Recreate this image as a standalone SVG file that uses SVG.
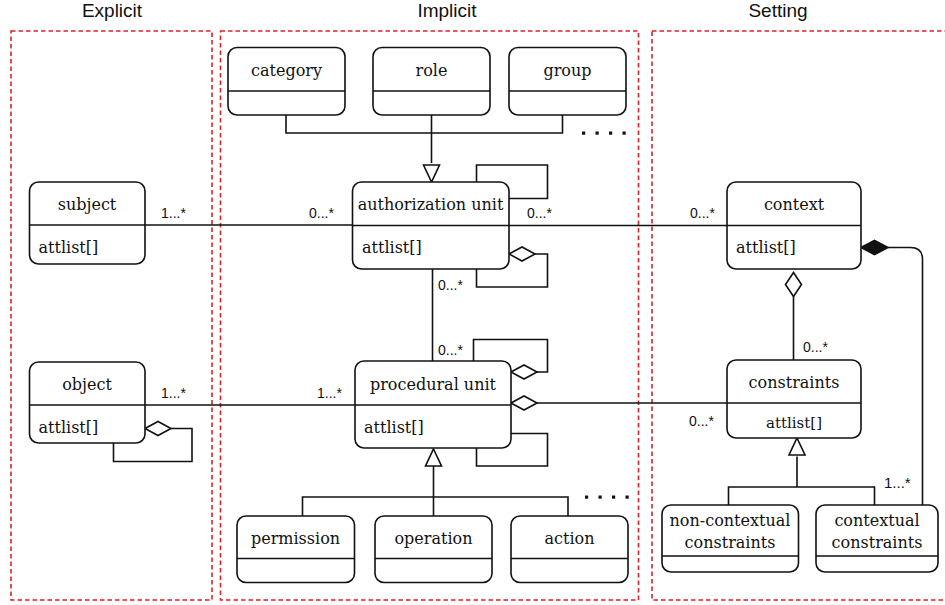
<svg xmlns="http://www.w3.org/2000/svg" width="945" height="605" viewBox="0 0 945 605">
  <style>
    .zone { fill: none; stroke: #d7252a; stroke-width: 1.6; stroke-dasharray: 4.5 3; }
    .zt { font-family: "Liberation Sans", Arial, sans-serif; font-size: 19px; fill: #111; text-anchor: middle; }
    .box { fill: #fff; stroke: #111; stroke-width: 1.6; }
    .div { stroke: #111; stroke-width: 1.6; }
    .nm { font-family: "DejaVu Serif", Georgia, serif; font-size: 16px; fill: #111; text-anchor: middle; }
    .at { font-family: "DejaVu Serif", Georgia, serif; font-size: 16px; fill: #111; }
    .ln { fill: none; stroke: #111; stroke-width: 1.6; }
    .hol { fill: #fff; stroke: #111; stroke-width: 1.6; stroke-linejoin: miter; }
    .sol { fill: #111; stroke: #111; stroke-width: 1.6; }
    .mul { font-family: "Liberation Sans", Arial, sans-serif; font-size: 14px; fill: #111; }
    .dot { fill: #111; }
  </style>
  <defs>
    <!-- aggregation diamond, left tip at origin, pointing left -->
    <polygon id="diamond" points="0,0 13,-7 26,0 13,7"/>
    <!-- generalization triangle, tip at origin, pointing up -->
    <polygon id="tri" points="0,0 8,17 -8,17"/>
    <!-- row of four dots -->
    <g id="dots">
      <rect class="dot" x="0" y="-1.5" width="3.2" height="3.2"/>
      <rect class="dot" x="13.5" y="-1.5" width="3.2" height="3.2"/>
      <rect class="dot" x="27" y="-1.5" width="3.2" height="3.2"/>
      <rect class="dot" x="40.5" y="-1.5" width="3.2" height="3.2"/>
    </g>
  </defs>

  <!-- zones -->
  <g id="zones">
    <rect class="zone" x="11" y="31" width="201" height="569"/>
    <rect class="zone" x="220.5" y="31" width="418" height="569"/>
    <rect class="zone" x="652" y="31" width="296" height="569"/>
    <text class="zt" x="112" y="17">Explicit</text>
    <text class="zt" x="447" y="17">Implicit</text>
    <text class="zt" x="778" y="17">Setting</text>
  </g>

  <!-- connectors -->
  <g id="connectors">
    <!-- category / role / group generalize authorization unit -->
    <path class="ln" d="M286 115 V133 H562.5 V115 M431.5 115 V163"/>
    <use href="#tri" class="hol" transform="translate(431.5 182) rotate(180)"/>
    <use href="#dots" x="582" y="133"/>

    <!-- subject - authorization unit - context -->
    <path class="ln" d="M145 225 H352 M509 225.5 H727"/>
    <text class="mul" x="161" y="218">1...*</text>
    <text class="mul" x="309" y="218">0...*</text>
    <text class="mul" x="527" y="218">0...*</text>
    <text class="mul" x="690" y="218">0...*</text>

    <!-- authorization unit self loops -->
    <path class="ln" d="M476.5 182 V165 H547.5 V198.5 H509"/>
    <path class="ln" d="M535 254 H547.5 V287 H476.5 V269"/>
    <use href="#diamond" class="hol" x="509" y="254"/>

    <!-- authorization unit - procedural unit -->
    <path class="ln" d="M432.5 269 V361"/>
    <text class="mul" x="438" y="290">0...*</text>
    <text class="mul" x="438" y="355">0...*</text>

    <!-- object - procedural unit -->
    <path class="ln" d="M145 405 H355"/>
    <text class="mul" x="161" y="398">1...*</text>
    <text class="mul" x="317" y="398">1...*</text>

    <!-- object self aggregation -->
    <path class="ln" d="M171 428.5 H192 V461.5 H113.5 V443"/>
    <use href="#diamond" class="hol" x="145" y="428.5"/>

    <!-- procedural unit self loops -->
    <path class="ln" d="M473.5 361 V339.5 H547.5 V372 H537"/>
    <use href="#diamond" class="hol" x="511" y="372"/>
    <path class="ln" d="M511 433.5 H547.5 V466 H476.5 V448"/>

    <!-- procedural unit - constraints -->
    <path class="ln" d="M537 403 H727"/>
    <use href="#diamond" class="hol" x="511" y="403"/>
    <text class="mul" x="689" y="426">0...*</text>

    <!-- permission / operation / action generalize procedural unit -->
    <path class="ln" d="M433.5 466 V497 M302.5 516 V497 H568 V516 M433.5 497 V516"/>
    <use href="#tri" class="hol" x="433.5" y="449"/>
    <use href="#dots" x="585" y="497"/>

    <!-- context aggregates constraints -->
    <path class="ln" d="M793.5 296.5 V360"/>
    <polygon class="hol" points="793.5,272.5 801.5,284.5 793.5,296.5 785.5,284.5"/>
    <text class="mul" x="803" y="352">0...*</text>

    <!-- context composed of contextual constraints -->
    <path class="ln" d="M888 247.5 H910.5 Q922.5 247.5 922.5 259.5 V505"/>
    <polygon class="sol" points="861,247.5 874.5,240.5 888,247.5 874.5,254.5"/>
    <text class="mul" x="884" y="488" style="font-size:15px">1...*</text>

    <!-- constraints specializations -->
    <path class="ln" d="M797 456.5 V487 M728.5 505 V487 H874.5 V505"/>
    <use href="#tri" class="hol" x="797" y="438"/>
  </g>

  <!-- nodes -->
  <g id="category">
    <rect class="box" x="228" y="47.5" width="117" height="67.5" rx="9"/>
    <line class="div" x1="228" y1="91" x2="345" y2="91"/>
    <text class="nm" x="286.5" y="76">category</text>
  </g>
  <g id="role">
    <rect class="box" x="373" y="47.5" width="117" height="67.5" rx="9"/>
    <line class="div" x1="373" y1="91" x2="490" y2="91"/>
    <text class="nm" x="431.5" y="76">role</text>
  </g>
  <g id="group">
    <rect class="box" x="509" y="47.5" width="117" height="67.5" rx="9"/>
    <line class="div" x1="509" y1="91" x2="626" y2="91"/>
    <text class="nm" x="567.5" y="76">group</text>
  </g>

  <g id="subject">
    <rect class="box" x="29.5" y="182" width="115.5" height="82" rx="9"/>
    <line class="div" x1="29.5" y1="225" x2="145" y2="225"/>
    <text class="nm" x="87" y="210">subject</text>
    <text class="at" x="38.5" y="253">attlist[]</text>
  </g>
  <g id="object">
    <rect class="box" x="29.5" y="362" width="115.5" height="81" rx="9"/>
    <line class="div" x1="29.5" y1="405" x2="145" y2="405"/>
    <text class="nm" x="87" y="390">object</text>
    <text class="at" x="38.5" y="433">attlist[]</text>
  </g>

  <g id="authorization-unit">
    <rect class="box" x="352.5" y="182" width="156.5" height="87" rx="9"/>
    <line class="div" x1="352.5" y1="225.5" x2="509" y2="225.5"/>
    <text class="nm" x="430.5" y="210">authorization unit</text>
    <text class="at" x="362" y="253">attlist[]</text>
  </g>
  <g id="procedural-unit">
    <rect class="box" x="355" y="361" width="156" height="87" rx="9"/>
    <line class="div" x1="355" y1="405" x2="511" y2="405"/>
    <text class="nm" x="433" y="390">procedural unit</text>
    <text class="at" x="364" y="433">attlist[]</text>
  </g>

  <g id="permission">
    <rect class="box" x="237" y="516" width="117.5" height="66.5" rx="9"/>
    <line class="div" x1="237" y1="558.5" x2="354.5" y2="558.5"/>
    <text class="nm" x="295.5" y="544">permission</text>
  </g>
  <g id="operation">
    <rect class="box" x="375" y="516" width="117" height="66.5" rx="9"/>
    <line class="div" x1="375" y1="558.5" x2="492" y2="558.5"/>
    <text class="nm" x="433.5" y="544">operation</text>
  </g>
  <g id="action">
    <rect class="box" x="511" y="516" width="117" height="66.5" rx="9"/>
    <line class="div" x1="511" y1="558.5" x2="628" y2="558.5"/>
    <text class="nm" x="569.5" y="544">action</text>
  </g>

  <g id="context">
    <rect class="box" x="727" y="182" width="134" height="87" rx="9"/>
    <line class="div" x1="727" y1="225.5" x2="861" y2="225.5"/>
    <text class="nm" x="794" y="210">context</text>
    <text class="at" x="736" y="253">attlist[]</text>
  </g>
  <g id="constraints">
    <rect class="box" x="727" y="360" width="134" height="78" rx="9"/>
    <line class="div" x1="727" y1="403" x2="861" y2="403"/>
    <text class="nm" x="794" y="387.5">constraints</text>
    <text class="nm" x="794" y="427.5" style="font-size:15px">attlist[]</text>
  </g>

  <g id="non-contextual-constraints">
    <rect class="box" x="662" y="505" width="136.5" height="67" rx="9"/>
    <line class="div" x1="662" y1="556" x2="798.5" y2="556"/>
    <text class="nm" x="730" y="526">non-contextual</text>
    <text class="nm" x="730" y="548">constraints</text>
  </g>
  <g id="contextual-constraints">
    <rect class="box" x="816" y="505" width="122" height="67" rx="9"/>
    <line class="div" x1="816" y1="556" x2="938" y2="556"/>
    <text class="nm" x="877" y="526">contextual</text>
    <text class="nm" x="877" y="548">constraints</text>
  </g>
</svg>
